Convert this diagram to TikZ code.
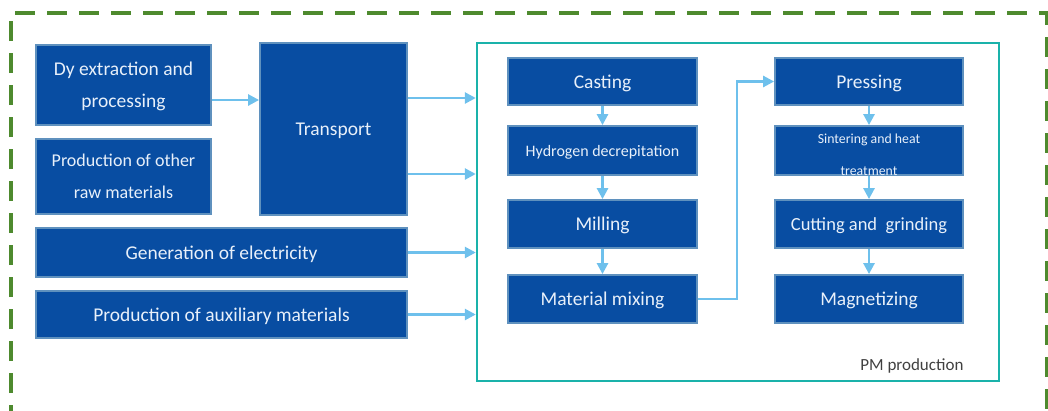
\documentclass[tikz,border=0pt]{standalone}
\usepackage{fontspec}
\setmainfont{Carlito}
\usetikzlibrary{arrows.meta, positioning}

\definecolor{boxblue}{RGB}{8,77,162}
\definecolor{boxedge}{RGB}{95,145,190}
\definecolor{boxtext}{RGB}{232,240,250}
\definecolor{flowblue}{RGB}{110,192,236}
\definecolor{pmteal}{RGB}{26,178,170}
\definecolor{outergreen}{RGB}{78,138,46}

\begin{document}
\begin{tikzpicture}[x=1pt, y=-1pt, >={Triangle[length=11pt,width=11pt]},
  box/.style={draw=boxedge, fill=boxblue, line width=1.8pt, text=boxtext,
    font={\fontsize{19.5}{32}\selectfont}, align=center, inner sep=0pt,
    text depth=0pt},
  flow/.style={->, draw=flowblue, line width=2.6pt}]
  \useasboundingbox (0,0) rectangle (1048,410);

  % outer dashed frame
  \draw [outergreen, line width=3.8pt, dash pattern=on 20pt off 12pt]
    (11,425) -- (11,13) -- (1047,13) -- (1047,425);

  % PM production frame
  \node [draw=pmteal, line width=2.4pt, minimum width=522pt, minimum height=338pt,
    inner sep=0pt] (pm) at (738,212) {};
  \node [anchor=east, text=black!75, font={\fontsize{17}{20}\selectfont}]
    (pmlabel) at (967,366) {PM production};

  % supply side
  \node [box, minimum width=175pt, minimum height=80pt] (dy) at (123.5,85)
    {Dy extraction and\\processing};
  \node [box, minimum width=175pt, minimum height=75pt,
    font={\fontsize{18}{32}\selectfont}] (raw) at (123.5,176.5)
    {Production of other\\raw materials};
  \node [box, minimum width=147pt, minimum height=172pt] (transport) at (333.5,129)
    {Transport};
  \node [box, minimum width=371pt, minimum height=49pt] (elec) at (221.5,252.5)
    {Generation of electricity};
  \node [box, minimum width=371pt, minimum height=47pt] (aux) at (221.5,314.5)
    {Production of auxiliary materials};

  % production steps
  \node [box, minimum width=189pt, minimum height=47pt] (casting) at (602.5,81.5)
    {Casting};
  \node [box, minimum width=189pt, minimum height=49pt, font={\fontsize{16}{20}\selectfont}]
    (hydro) at (602.5,150.5) {Hydrogen decrepitation};
  \node [box, minimum width=189pt, minimum height=48pt] (milling) at (602.5,224)
    {Milling};
  \node [box, minimum width=189pt, minimum height=48pt] (mixing) at (602.5,299)
    {Material mixing};
  \node [box, minimum width=188pt, minimum height=47pt] (pressing) at (869,81.5)
    {Pressing};
  \node [box, minimum width=188pt, minimum height=49pt,
    label={[text=boxtext, align=center, font={\fontsize{13.8}{32}\selectfont},
      yshift=-4.5pt]center:Sintering and heat\\treatment}] (sinter) at (869,150.5) {};
  \node [box, minimum width=188pt, minimum height=48pt,
    font={\fontsize{18.5}{32}\selectfont}] (cutting) at (869,224)
    {Cutting and\ \ grinding};
  \node [box, minimum width=188pt, minimum height=48pt] (magnet) at (869,299)
    {Magnetizing};

  % flows
  \draw [flow] ([yshift=-15pt]dy.east) -- ([yshift=-15pt]dy.east -| transport.west);
  \draw [flow] ([yshift=31pt]transport.east) -- ([yshift=31pt]transport.east -| pm.west);
  \draw [flow] ([yshift=-45pt]transport.east) -- ([yshift=-45pt]transport.east -| pm.west);
  \draw [flow] (elec.east) -- (elec.east -| pm.west);
  \draw [flow] (aux.east) -- (aux.east -| pm.west);

  \draw [flow] (casting) -- (hydro);
  \draw [flow] (hydro) -- (milling);
  \draw [flow] (milling) -- (mixing);
  \draw [flow] (mixing.east) -- ++(39,0) |- (pressing.west);
  \draw [flow] (pressing) -- (sinter);
  \draw [flow] (sinter) -- (cutting);
  \draw [flow] (cutting) -- (magnet);
\end{tikzpicture}
\end{document}
